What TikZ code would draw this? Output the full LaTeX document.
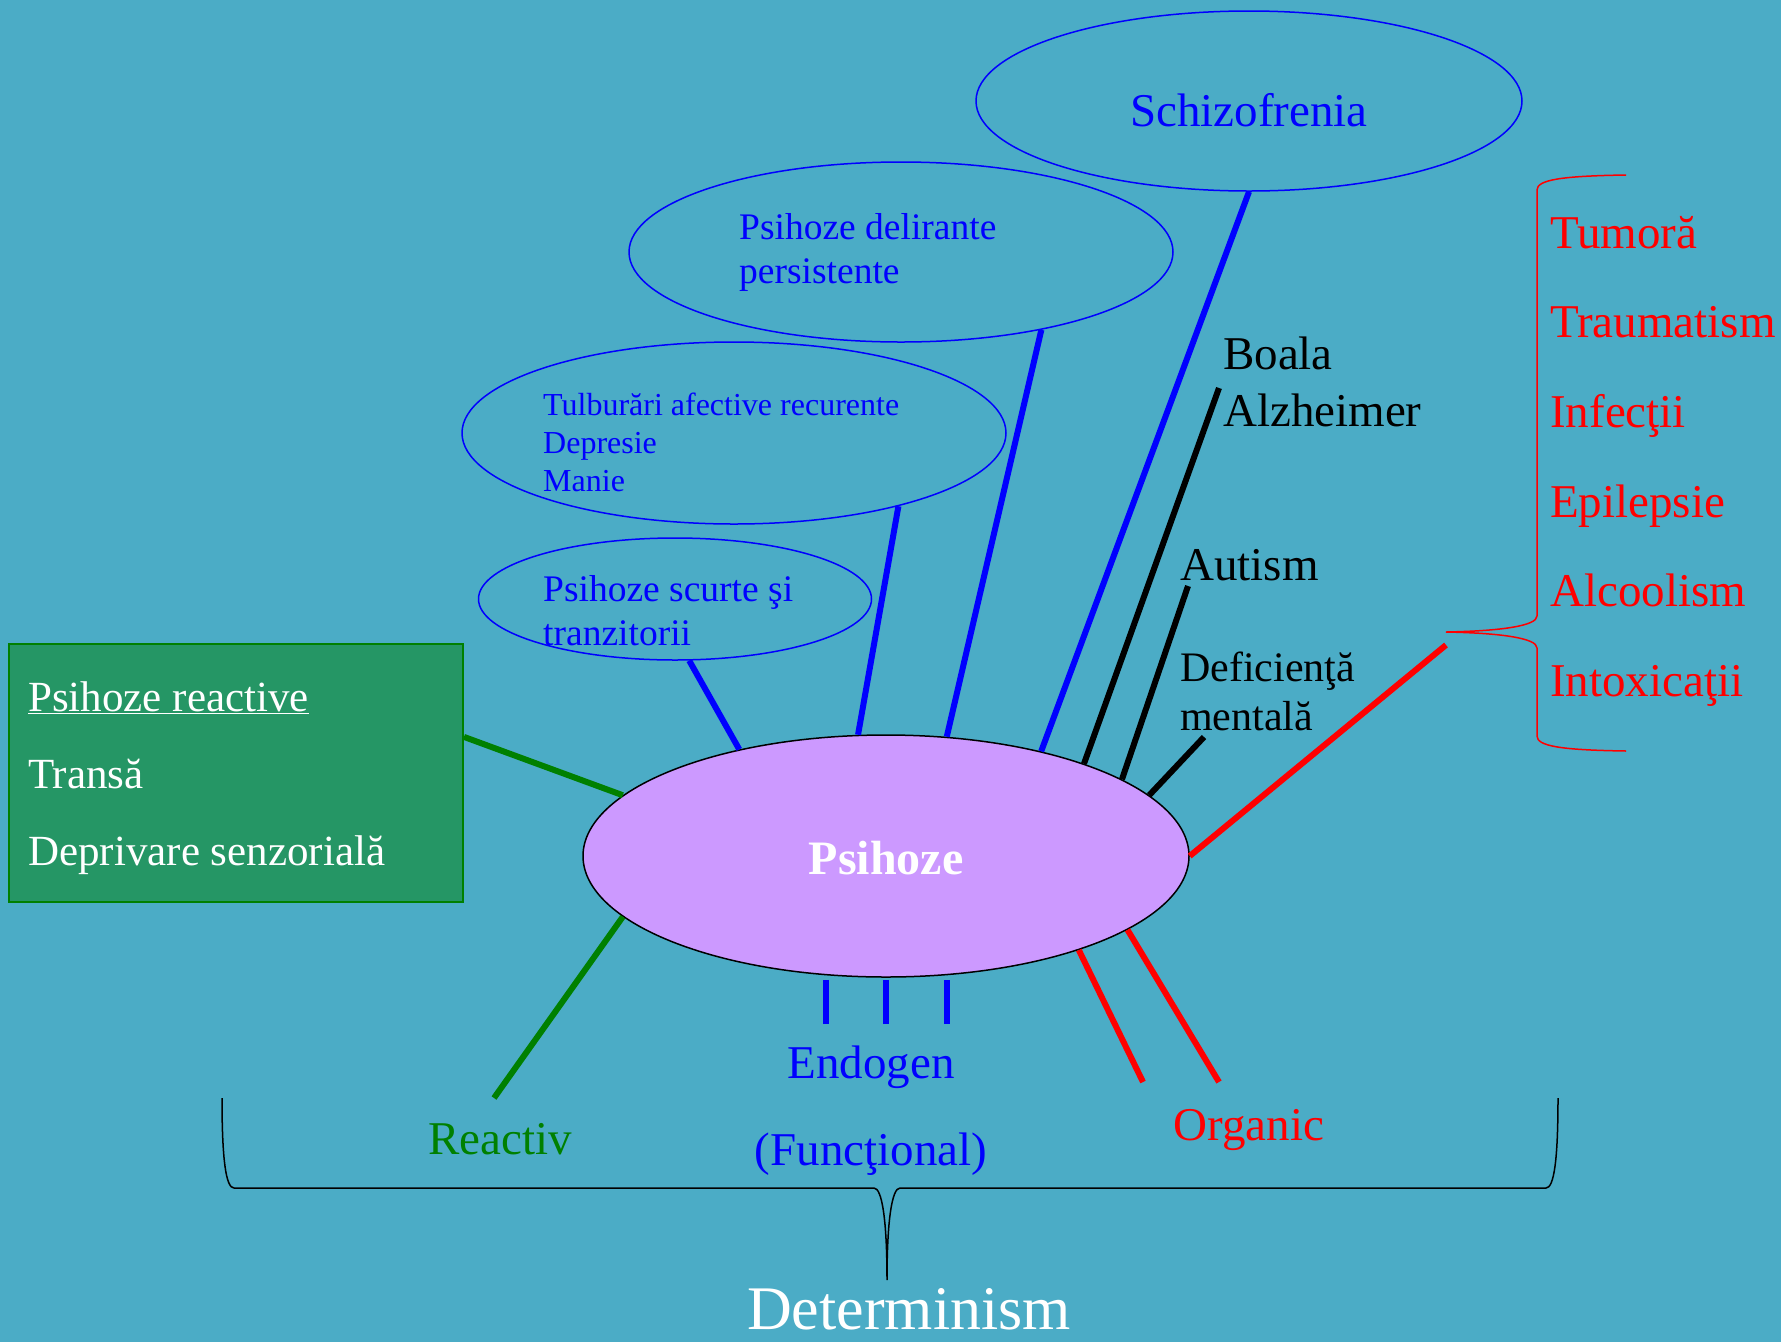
\documentclass[tikz,border=0pt]{standalone}
\usepackage{fontspec}
\setmainfont{Liberation Serif}
\usetikzlibrary{shapes.geometric}
\definecolor{bgteal}{HTML}{4BACC6}
\definecolor{lilac}{HTML}{CC99FF}
\definecolor{boxgreen}{HTML}{259665}
\definecolor{darkgreen}{HTML}{008000}

\begin{document}
\begin{tikzpicture}[x=1pt, y=-1pt,
	oval/.style={ellipse, draw=blue, line width=1.5pt, inner sep=0pt},
	bluebar/.style={line width=6pt, blue},
	blackbar/.style={line width=6pt, black},
	redbar/.style={line width=6pt, red},
	greenbar/.style={line width=6pt, darkgreen},
	big/.style={font=\fontsize{47}{56}\selectfont},
	mid/.style={font=\fontsize{37.5}{44}\selectfont},
	small/.style={font=\fontsize{32}{38}\selectfont},
	lefttext/.style={anchor=base west, inner sep=0pt}]
	\useasboundingbox (0,0) rectangle (1781,1342);
	\fill[bgteal] (0,0) rectangle (1781,1342);

	% ovals of the diagnoses
	\node (schizo) at (1249,101) [oval, minimum width=546pt, minimum height=180pt] {};
	\node (delir) at (901,252) [oval, minimum width=544pt, minimum height=180pt] {};
	\node (tulb) at (734,433) [oval, minimum width=544pt, minimum height=182pt] {};
	\node (scurte) at (675,599) [oval, minimum width=393pt, minimum height=122pt] {};
	\node (schizot) at (1249,126) [big, blue, anchor=base, inner sep=0pt] {Schizofrenia};
	\node (del1) at (739,239) [mid, blue, lefttext] {Psihoze delirante};
	\node (del2) at (739,283) [mid, blue, lefttext] {persistente};
	\node (tul1) at (543,415) [small, blue, lefttext] {Tulburări afective recurente};
	\node (tul2) at (543,453) [small, blue, lefttext] {Depresie};
	\node (tul3) at (543,491) [small, blue, lefttext] {Manie};
	\node (scu1) at (543,601) [mid, blue, lefttext] {Psihoze scurte şi};
	\node (scu2) at (543,645) [mid, blue, lefttext] {tranzitorii};

	% central oval
	\node (psi) at (886,856) [ellipse, draw=black, line width=1.5pt, fill=lilac, inner sep=0pt,
		minimum width=606pt, minimum height=242pt] {};
	\node (psit) at (886,874) [anchor=base, white, inner sep=0pt, font=\fontsize{48}{56}\selectfont\bfseries] {Psihoze};

	% reactive box
	\node (box) at (236,773) [rectangle, draw=darkgreen, line width=2pt, fill=boxgreen,
		minimum width=454pt, minimum height=258pt] {};
	\node (box1) at (28,711) [white, lefttext, font=\fontsize{43}{50}\selectfont] {\underline{Psihoze reactive}};
	\node (box2) at (28,788) [white, lefttext, font=\fontsize{43}{50}\selectfont] {Transă};
	\node (box3) at (28,865) [white, lefttext, font=\fontsize{43}{50}\selectfont] {Deprivare senzorială};

	% organic labels
	\node (boala) at (1223,369) [big, lefttext] {Boala};
	\node (alz) at (1223,426) [big, lefttext] {Alzheimer};
	\node (autism) at (1180,580) [big, lefttext] {Autism};
	\node (def1) at (1180,681) [lefttext, font=\fontsize{42}{49}\selectfont] {Deficienţă};
	\node (def2) at (1180,730) [lefttext, font=\fontsize{42}{49}\selectfont] {mentală};
	\foreach \t [count=\i from 0] in {Tumoră,Traumatism,Infecţii,Epilepsie,Alcoolism,Intoxicaţii}
		\node (cause\i) at (1550,248+89.7*\i) [big, red, lefttext] {\t};

	% red brace
	\draw[red, line width=1.5pt] (1626,175) .. controls (1560,176) and (1537,180) .. (1537,190)
		-- (1537,616) .. controls (1537,626) and (1500,631) .. (1446,632)
		.. controls (1500,633) and (1537,638) .. (1537,648)
		-- (1537,736) .. controls (1537,746) and (1560,750) .. (1626,751);

	% free ends
	\coordinate (alzend) at (1219,388);
	\coordinate (autend) at (1188,586);
	\coordinate (defend) at (1204,737);
	\coordinate (redtip) at (1446,645);
	\coordinate (org1) at (1143,1082);
	\coordinate (org2) at (1219,1082);
	\coordinate (reacend) at (494,1098);

	% connectors
	\draw[bluebar] (scurte.-77) -- (psi.144.8);
	\draw[bluebar] (tulb.-24.8) -- (psi.103.1);
	\draw[bluebar] (delir.-29.2) -- (psi.63.1);
	\draw[bluebar] (schizo.south) -- (psi.34.8);
	\draw[blackbar] (alzend) -- (psi.25.05);
	\draw[blackbar] (autend) -- (psi.18.4);
	\draw[blackbar] (defend) -- (psi.13.3);
	\draw[redbar] (redtip) -- (psi.0.4);
	\draw[redbar] (psi.-26.3) -- (org1);
	\draw[redbar] (psi.-17.4) -- (org2);
	\draw[greenbar] (box.9.3) -- (psi.167.4);
	\draw[greenbar] (psi.193.3) -- (reacend);
	\foreach \d in {-60,0,61}
		\draw[bluebar] ([xshift=\d pt, yshift=-2pt]psi.south) -- ++(0,44);

	% kinds of determinism
	\node (endo) at (871,1078) [big, blue, anchor=base, inner sep=0pt] {Endogen};
	\node (func) at (871,1165) [big, blue, anchor=base, inner sep=0pt] {(Funcţional)};
	\node (reac) at (500,1154) [big, darkgreen, anchor=base, inner sep=0pt] {Reactiv};
	\node (org) at (1249,1140) [big, red, anchor=base, inner sep=0pt] {Organic};

	% big brace
	\draw[black, line width=1.5pt] (222,1098) .. controls (222,1160) and (226,1188) .. (234,1188)
		-- (874,1188) .. controls (882,1188) and (887,1220) .. (887,1280)
		.. controls (887,1220) and (892,1188) .. (900,1188)
		-- (1546,1188) .. controls (1554,1188) and (1558,1160) .. (1558,1098);
	\node (determ) at (909,1329) [white, anchor=base, inner sep=0pt, font=\fontsize{62}{70}\selectfont] {Determinism};
\end{tikzpicture}
\end{document}
